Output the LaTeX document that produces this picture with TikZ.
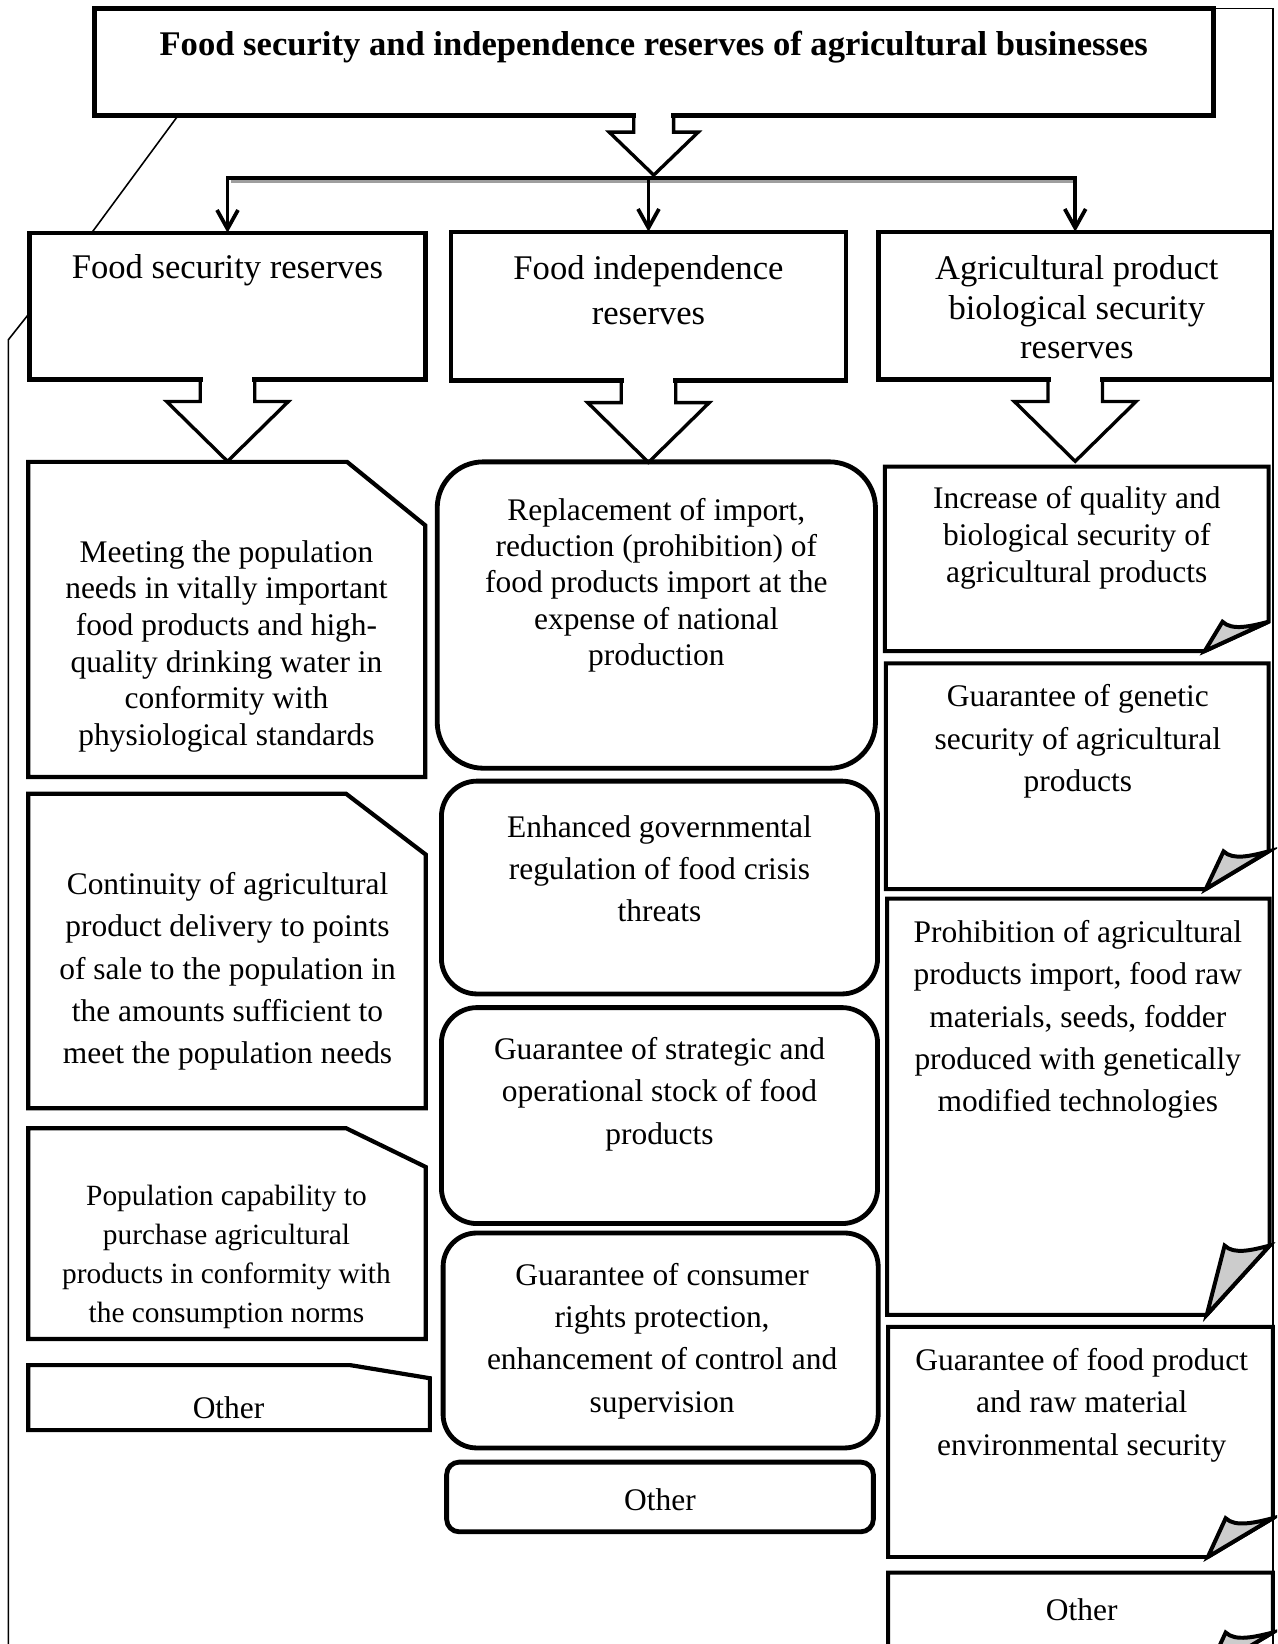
\documentclass[tikz,border=0pt]{standalone}
\usepackage{fontspec}
\setmainfont{Liberation Serif}
\usetikzlibrary{arrows.meta,calc}
\definecolor{foldgray}{gray}{0.8}
\definecolor{shadowgray}{gray}{0.62}
\newcommand\foldbox[7]{%
  \draw[rbline] (#2,#3) -- (#4,#3) -- (#4,#5-#7) coordinate (#1-re) -- (#4-#6,#5) coordinate (#1-be) -- (#2,#5) -- cycle;
  \filldraw[foldline, fill=foldgray] (#1-be) -- ($(#1-be)+(17,-#7)$) coordinate (#1-tip) .. controls ($(#1-tip)+(9,9)$) and ($(#1-re)+(-16,4)$) .. (#1-re) -- cycle;
}
\newcommand\blockarrow[5]{%
  \fill[white] ($(#1.south)+(-#2+2.5,-3)$) rectangle ($(#1.south)+(#2-2.5,3)$);
  \draw[arrline] ($(#1.south)+(-#2,0)$) -- ($(#1.south)+(-#2,#4)$) -- ($(#1.south)+(-#3,#4)$) -- ($(#1.south)+(0,#5)$) -- ($(#1.south)+(#3,#4)$) -- ($(#1.south)+(#2,#4)$) -- ($(#1.south)+(#2,0)$);
}
\begin{document}
\begin{tikzpicture}[x=0.5pt,y=-0.5pt,
  frameline/.style={line width=0.75pt},
  titlebox/.style={draw, line width=2.4pt, outer sep=0pt, inner sep=0pt},
  hdrbox/.style={draw, line width=2.1pt, outer sep=0pt, inner sep=0pt},
  snipline/.style={line width=2pt, line join=miter},
  rndline/.style={line width=2.3pt},
  rbline/.style={line width=1.9pt, line join=miter},
  foldline/.style={line width=1.9pt, line join=miter},
  arrline/.style={line width=1.6pt, line join=miter},
  barline/.style={line width=1.8pt, line join=miter},
  tiptype/.style={-{Straight Barb[length=9pt,width=10pt]}},
  titletxt/.style={inner sep=0pt, yshift=-1pt, font=\bfseries\fontsize{16.5}{19}\selectfont},
  hdrtxt/.style={inner sep=0pt, yshift=-1pt, align=center, font=\fontsize{16.5}{19}\selectfont},
  bodytxt/.style={inner sep=0pt, yshift=-1.5pt, align=center, font=\fontsize{15}{17.5}\selectfont},
  widetxt/.style={inner sep=0pt, yshift=-1.5pt, align=center, font=\fontsize{15}{20.2}\selectfont},
  smalltxt/.style={inner sep=0pt, yshift=-1.2pt, align=center, font=\fontsize{14}{18.5}\selectfont}
]
\useasboundingbox (0,0) rectangle (1218,1568);
\clip (0,0) rectangle (1218,1568);

% thin outer frame
\draw[frameline] (170,110) -- (87.5,222);
\draw[frameline] (27,300) -- (8,324) -- (8,1570);
\draw[frameline] (1157,8) -- (1214,8) -- (1214,1570);

% title
\node[titlebox, minimum width=533.5pt, minimum height=51pt] (title) at (623.5,59) {};
\node[titletxt] (titlet) at (623.5,43) {Food security and independence reserves of agricultural businesses};

% headers
\node[hdrbox, minimum width=189pt, minimum height=70pt] (h1) at (217,292) {};
\node[hdrbox, minimum width=188.5pt, minimum height=71pt] (h2) at (618.5,292) {};
\node[hdrbox, minimum width=187.5pt, minimum height=70.5pt] (h3) at (1025.5,291.5) {};
\node[hdrtxt] (h1t) at (217,256) {Food security reserves};
\node[hdrtxt, font=\fontsize{16.5}{21.5}\selectfont] (h2t) at (618.5,274.5) {Food independence\\reserves};
\node[hdrtxt] (h3t) at (1027,291) {Agricultural product\\biological security\\reserves};

% top block arrow and distribution bar
\blockarrow{title}{19}{42.5}{16}{57}
\coordinate (bar) at (623,170);
\draw[shadowgray, line width=1.4pt] (220,173.2) -- (1023,173.2);
\draw[barline, {Straight Barb[length=9pt,width=10pt]}-{Straight Barb[length=9pt,width=10pt]}] (h1.north) |- (bar) -| (h3.north);
\draw[barline, tiptype] (bar -| h2.north) -- (h2.north);

% block arrows under headers
\blockarrow{h1}{26}{58}{21}{78}
\blockarrow{h2}{26}{58}{21}{78}
\blockarrow{h3}{26}{58}{21}{78}

% left column (snipped corners)
\draw[snipline] (27,440.5) -- (331,440.5) -- (405.5,501) -- (405.5,741) -- (27,741) -- cycle;
\node[bodytxt] (l1t) at (216,613.5) {Meeting the population\\needs in vitally important\\food products and high-\\quality drinking water in\\conformity with\\physiological standards};
\draw[snipline] (27,757) -- (330,757) -- (406,815) -- (406,1057) -- (27,1057) -- cycle;
\node[widetxt] (l2t) at (217,923.5) {Continuity of agricultural\\product delivery to points\\of sale to the population in\\the amounts sufficient to\\meet the population needs};
\draw[snipline] (27,1076) -- (330,1076) -- (406,1113) -- (406,1277) -- (27,1277) -- cycle;
\node[smalltxt] (l3t) at (216,1196.5) {Population capability to\\purchase agricultural\\products in conformity with\\the consumption norms};
\draw[snipline] (27,1302) -- (334,1302) -- (410,1314.5) -- (410,1364) -- (27,1364) -- cycle;
\node[bodytxt] (l4t) at (218,1340) {Other};

% middle column (rounded)
\draw[rndline, rounded corners=22pt] (417,440.5) rectangle (835,732.7);
\node[bodytxt, font=\fontsize{15}{17.3}\selectfont] (m1t) at (626,555) {Replacement of import,\\reduction (prohibition) of\\food products import at the\\expense of national\\production};
\draw[rndline, rounded corners=17pt] (421,745) rectangle (837,948);
\node[widetxt] (m2t) at (629,825.5) {Enhanced governmental\\regulation of food crisis\\threats};
\draw[rndline, rounded corners=17pt] (421,961) rectangle (837,1167);
\node[widetxt] (m3t) at (629,1040.5) {Guarantee of strategic and\\operational stock of food\\products};
\draw[rndline, rounded corners=16pt] (422.6,1176) rectangle (837.6,1381);
\node[widetxt] (m4t) at (631.5,1276) {Guarantee of consumer\\rights protection,\\enhancement of control and\\supervision};
\draw[rndline, rounded corners=6pt] (426,1394.5) rectangle (833,1461);
\node[bodytxt] (m5t) at (629.5,1427.6) {Other};

% right column (folded corners)
\foldbox{r1}{844}{445}{1210}{621}{61}{28}
\node[bodytxt] (r1t) at (1027,510) {Increase of quality and\\biological security of\\agricultural products};
\foldbox{r2}{845}{632.6}{1210}{848}{60}{36}
\node[widetxt] (r2t) at (1028,704) {Guarantee of genetic\\security of agricultural\\products};
\foldbox{r3}{846}{857}{1211}{1254}{60}{66}
\node[widetxt] (r3t) at (1028,969.4) {Prohibition of agricultural\\products import, food raw\\materials, seeds, fodder\\produced with genetically\\modified technologies};
\foldbox{r4}{847}{1265.5}{1214}{1485}{62}{37}
\node[widetxt] (r4t) at (1031.7,1337) {Guarantee of food product\\and raw material\\environmental security};
\foldbox{r5}{847}{1500}{1214}{1594}{62}{37}
\node[bodytxt] (r5t) at (1031.7,1532.5) {Other};
\end{tikzpicture}
\end{document}
